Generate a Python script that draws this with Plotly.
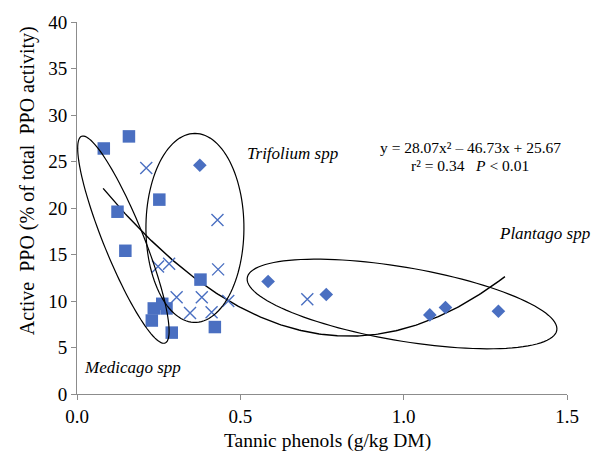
import numpy as np
import plotly.graph_objects as go

# ---- data ----
medicago_x = [0.082, 0.159, 0.124, 0.148, 0.252, 0.378, 0.235, 0.261, 0.274, 0.229, 0.290, 0.422]
medicago_y = [26.4, 27.7, 19.6, 15.4, 20.9, 12.3, 9.2, 9.7, 9.2, 7.9, 6.6, 7.2]

trifolium_x = [0.212, 0.430, 0.248, 0.282, 0.432, 0.305, 0.382, 0.463, 0.346, 0.412]
trifolium_y = [24.3, 18.7, 13.7, 14.0, 13.4, 10.4, 10.4, 10.0, 8.7, 8.8]

other_x = [0.705]
other_y = [10.2]

plantago_x = [0.376, 0.585, 0.763, 1.080, 1.128, 1.290]
plantago_y = [24.6, 12.1, 10.7, 8.5, 9.3, 8.9]

# quadratic trend line coefficients (y = a x^2 + b x + c) and fitted x span
trend_coef = [28.07, -46.73, 25.67]
trend_span = [0.08, 1.31]

x_ticks = [0.0, 0.5, 1.0, 1.5]
y_ticks = [0, 5, 10, 15, 20, 25, 30, 35, 40]

# ---- layout geometry ----
W, H = 592, 460
ML, MR, MT, MB = 77, 25, 20, 66
X_RANGE = [0, 1.5]
Y_RANGE = [0, 40]
kx = (W - ML - MR) / (X_RANGE[1] - X_RANGE[0])
ky = (H - MT - MB) / (Y_RANGE[1] - Y_RANGE[0])

BLUE = "#4a6fc1"
AXIS = "#8c8c8c"
FONT = "Liberation Serif, Times New Roman, serif"
NB = "\u00a0"


def ellipse_path(cx, cy, a_px, b_px, ang_deg, n=120):
    th = np.radians(ang_deg)
    t = np.linspace(0, 2 * np.pi, n)
    dx = a_px * np.cos(th) * np.cos(t) - b_px * np.sin(th) * np.sin(t)
    dy = a_px * np.sin(th) * np.cos(t) + b_px * np.cos(th) * np.sin(t)
    xs = cx + dx / kx
    ys = cy + dy / ky
    return "M " + " L ".join(f"{x:.5f},{y:.5f}" for x, y in zip(xs, ys)) + " Z"


def px(xp):
    return (xp - ML) / (W - ML - MR)


def py(yp):
    return 1 - (yp - MT) / (H - MT - MB)


fig = go.Figure()

tx = np.linspace(trend_span[0], trend_span[1], 200)
ty = np.polyval(trend_coef, tx)
fig.add_trace(go.Scatter(x=tx, y=ty, mode="lines",
                         line=dict(color="black", width=1.4), hoverinfo="skip"))

fig.add_trace(go.Scatter(x=medicago_x, y=medicago_y, mode="markers",
                         marker=dict(symbol="square", size=12.5, color=BLUE)))
fig.add_trace(go.Scatter(x=trifolium_x + other_x, y=trifolium_y + other_y, mode="markers",
                         marker=dict(symbol="x-thin", size=12,
                                     line=dict(color=BLUE, width=1.4))))
fig.add_trace(go.Scatter(x=plantago_x, y=plantago_y, mode="markers",
                         marker=dict(symbol="diamond", size=10.5, color=BLUE)))

shapes = [
    dict(type="path", path=ellipse_path(0.142, 16.6, 112, 20, 111.9),
         line=dict(color="black", width=1.2), layer="above"),
    dict(type="path", path=ellipse_path(0.361, 17.86, 95, 49, 90),
         line=dict(color="black", width=1.2), layer="above"),
    dict(type="path", path=ellipse_path(0.995, 9.68, 157, 37, -9.7),
         line=dict(color="black", width=1.2), layer="above"),
]


def ann(text, x, y, size, xanchor="left", **kw):
    return dict(text=text, xref="paper", yref="paper", x=px(x), y=py(y),
                xanchor=xanchor, yanchor="middle", showarrow=False,
                font=dict(family=FONT, size=size, color="black"), **kw)


fig.update_layout(
    width=W, height=H,
    margin=dict(l=ML, r=MR, t=MT, b=MB),
    paper_bgcolor="white", plot_bgcolor="white",
    showlegend=False,
    font=dict(family=FONT, size=19, color="black"),
    shapes=shapes,
    xaxis=dict(range=X_RANGE, tickvals=x_ticks, ticktext=[f"{v:.1f}" for v in x_ticks],
               showgrid=False, zeroline=False, showline=True, linecolor=AXIS, linewidth=1,
               ticks="outside", ticklen=5, tickcolor=AXIS,
               tickfont=dict(size=19, family=FONT, color="black")),
    yaxis=dict(range=Y_RANGE, tickvals=y_ticks, showgrid=False, zeroline=False,
               showline=True, linecolor=AXIS, linewidth=1,
               ticks="outside", ticklen=5, tickcolor=AXIS,
               tickfont=dict(size=19, family=FONT, color="black")),
    annotations=[
        ann("<i>Trifolium spp</i>", 245, 152, 17),
        ann("<i>Plantago spp</i>", 497, 233, 17),
        ann("<i>Medicago spp</i>", 82, 367, 17),
        ann("y = 28.07x² – 46.73x + 25.67", 470, 146, 15.5, xanchor="center"),
        ann("r² = 0.34" + NB * 3 + "<i>P</i> < 0.01", 470, 164, 15.5, xanchor="center"),
        ann("Tannic phenols (g/kg DM)", 327, 441, 19.5, xanchor="center"),
        ann("Active" + NB + " PPO (% of total" + NB + " PPO activity)", 27, 180, 20,
            xanchor="center", textangle=-90),
    ],
)

fig.write_html("out.html")
